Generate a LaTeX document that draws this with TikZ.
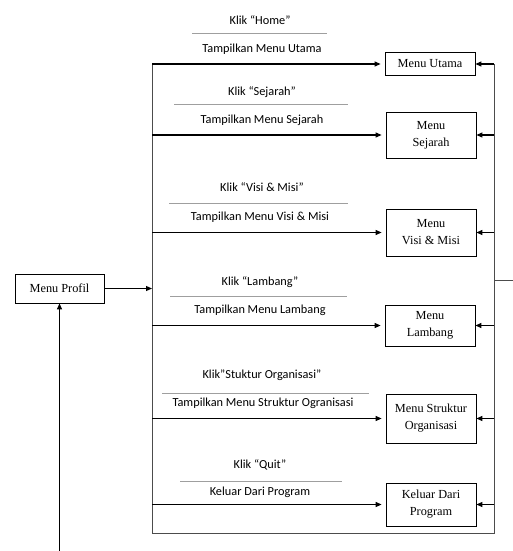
\documentclass[tikz,border=0pt]{standalone}
\usepackage{fontspec}
\setmainfont{Liberation Serif}
\newfontfamily\calibri{Carlito}
\usetikzlibrary{calc,positioning,arrows.meta}

\begin{document}
\begin{tikzpicture}[x=1pt, y=-1pt,
    box/.style={rectangle, draw=black, line width=0.8pt, minimum width=90pt, align=center, inner sep=2pt, font=\fontsize{12.3}{17}\selectfont},
    lbl/.style={inner sep=0pt, font=\calibri\fontsize{12.3}{14}\selectfont},
    sep/.style={draw=gray!75, line width=0.9pt},
    arr/.style={-{Triangle[length=6pt, width=5pt]}, line width=1.1pt}]
    \useasboundingbox (0,0) rectangle (513,551);

    \node[box, minimum height=23pt] (utama) at (430,64) {Menu Utama};
    \node[box, minimum height=46pt] (sejarah) at (431,135) {Menu\\Sejarah};
    \node[box, minimum height=47pt] (visi) at (431,232.5) {Menu\\Visi \& Misi};
    \node[box, minimum height=41pt] (lambang) at (430,325.5) {Menu\\Lambang};
    \node[box, minimum height=49pt] (struktur) at (431,418.5) {Menu Struktur\\Organisasi};
    \node[box, minimum height=43pt] (keluar) at (431,504.5) {Keluar Dari\\Program};
    \node[box, minimum width=89pt, minimum height=29pt] (profil) at (59.5,288.5) {Menu Profil};

    \coordinate (lt) at (152,64);
    \coordinate (lb) at (152,533);
    \coordinate (rb) at (494,533);
    \coordinate (rt) at (494,64);
    \coordinate (stub) at (513,280);
    \coordinate (start) at (59.5,551);

    \draw[line width=0.9pt, draw=black!70] (lt) -- (lb) -- (rb) -- (rt);
    \draw[line width=0.9pt, draw=black!70] (stub -| rt) -- (stub);

    \draw[arr, shorten >=4pt] (lt) -- (utama.west);
    \draw[arr, shorten >=4pt] (sejarah.west -| lt) -- (sejarah.west);
    \draw[arr, shorten >=4pt] (visi.west -| lt) -- (visi.west);
    \draw[arr, shorten >=4pt] (lambang.west -| lt) -- (lambang.west);
    \draw[arr, shorten >=4pt] (struktur.west -| lt) -- (struktur.west);
    \draw[arr, shorten >=4pt] (keluar.west -| lt) -- (keluar.west);

    \draw[arr] (rt) -- (utama.east);
    \draw[arr] (sejarah.east -| rt) -- (sejarah.east);
    \draw[arr] (visi.east -| rt) -- (visi.east);
    \draw[arr] (lambang.east -| rt) -- (lambang.east);
    \draw[arr] (struktur.east -| rt) -- (struktur.east);
    \draw[arr] (keluar.east -| rt) -- (keluar.east);

    \draw[arr] (profil.east) -- (profil.east -| lt);
    \draw[arr] (start) -- (profil.south);

    \node[lbl] (k1) at (260,20) {Klik “Home”};
    \node[lbl] (t1) at (262,49) {Tampilkan Menu Utama};
    \draw[sep] (192,33) -- (327,33);

    \node[lbl] (k2) at (262,92) {Klik “Sejarah”};
    \node[lbl] (t2) at (262,120) {Tampilkan Menu Sejarah};
    \draw[sep] (174,104) -- (348,104);

    \node[lbl] (k3) at (262,187) {Klik “Visi \& Misi”};
    \node[lbl] (t3) at (260,217) {Tampilkan Menu Visi \& Misi};
    \draw[sep] (169,203) -- (348,203);

    \node[lbl] (k4) at (260,282) {Klik “Lambang”};
    \node[lbl] (t4) at (260,310) {Tampilkan Menu Lambang};
    \draw[sep] (170,296) -- (347,296);

    \node[lbl] (k5) at (262,375) {Klik”Stuktur Organisasi”};
    \node[lbl] (t5) at (263,403) {Tampilkan Menu Struktur Ogranisasi};
    \draw[sep] (162,393) -- (369,393);

    \node[lbl] (k6) at (260,465) {Klik “Quit”};
    \node[lbl] (t6) at (260,492) {Keluar Dari Program};
    \draw[sep] (180,481) -- (342,481);
\end{tikzpicture}
\end{document}
